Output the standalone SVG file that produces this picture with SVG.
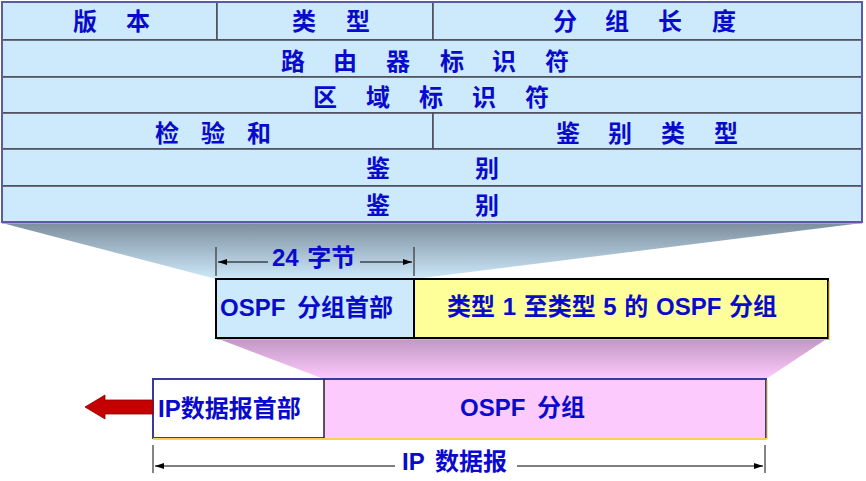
<svg xmlns="http://www.w3.org/2000/svg" width="866" height="481" viewBox="0 0 866 481">
<defs>
<style>
.cell{fill:#cceafb;stroke:#4a4a5a;stroke-width:1.5}
.t{font-family:"Liberation Sans","Noto Sans CJK SC",sans-serif;font-weight:bold;font-size:24px;fill:#0a0acc}
.tc{font-family:"Noto Sans CJK SC",sans-serif;font-weight:bold;font-size:24px;fill:#0a0acc;text-anchor:middle}
.dim{stroke:#000;stroke-width:1.2;fill:none}
.tick{stroke:#333;stroke-width:1.2}
</style>
<linearGradient id="gBlue" x1="0" y1="0" x2="0" y2="1">
<stop offset="0" stop-color="#7c8e9e"/>
<stop offset="1" stop-color="#cde9fa"/>
</linearGradient>
<linearGradient id="gPink" x1="0" y1="0" x2="0" y2="1">
<stop offset="0" stop-color="#c196c1"/>
<stop offset="1" stop-color="#fdcafd"/>
</linearGradient>
<marker id="ah" markerWidth="9" markerHeight="6" refX="9" refY="3" orient="auto-start-reverse" markerUnits="userSpaceOnUse">
<path d="M0,0 L9,3 L0,6 z" fill="#000"/>
</marker>
</defs>

<!-- expansion trapezoids -->
<polygon points="2,223 862,223 414,279 216,279" fill="url(#gBlue)"/>
<polygon points="216,338 828,338 766,379 324,379" fill="url(#gPink)"/>

<!-- OSPF header table -->
<g id="table">
<rect x="2" y="2" width="860" height="220" fill="#cceafb" stroke="#5a5aa8" stroke-width="2"/>
<line x1="2" y1="223" x2="862" y2="223" stroke="#e0b030" stroke-width="1.5"/>
<g id="row-version">
<rect class="cell" x="2" y="2" width="215" height="38"/>
<text class="tc" x="85 138" y="30">版本</text>
</g>
<g id="row-type">
<rect class="cell" x="217" y="2" width="216" height="38"/>
<text class="tc" x="304 358" y="30">类型</text>
</g>
<g id="row-length">
<rect class="cell" x="433" y="2" width="429" height="38"/>
<text class="tc" x="565 617 670 724" y="30">分组长度</text>
</g>
<g id="row-router-id">
<rect class="cell" x="2" y="40" width="860" height="37"/>
<text class="tc" x="293 345 398 452 504 557" y="70">路由器标识符</text>
</g>
<g id="row-area-id">
<rect class="cell" x="2" y="77" width="860" height="36"/>
<text class="tc" x="325 378 431 484 537" y="106">区域标识符</text>
</g>
<g id="row-checksum">
<rect class="cell" x="2" y="113" width="431" height="36"/>
<text class="tc" x="167 213 259" y="142">检验和</text>
</g>
<g id="row-auth-type">
<rect class="cell" x="433" y="113" width="429" height="36"/>
<text class="tc" x="568 620 673 726" y="142">鉴别类型</text>
</g>
<g id="row-auth-1">
<rect class="cell" x="2" y="149" width="860" height="37"/>
<text class="tc" x="378 487" y="177">鉴别</text>
</g>
<g id="row-auth-2">
<rect class="cell" x="2" y="186" width="860" height="36"/>
<text class="tc" x="378 487" y="214">鉴别</text>
</g>
<rect x="2" y="2" width="860" height="220" fill="none" stroke="#5a5aa8" stroke-width="2"/>
</g>

<!-- OSPF packet -->
<g id="ospf-header">
<rect x="216" y="279" width="198" height="59" fill="#cceafb" stroke="#000" stroke-width="2"/>
<text class="t" x="220" y="316" word-spacing="5">OSPF 分组首部</text>
</g>
<g id="ospf-body">
<rect x="414" y="279" width="414" height="59" fill="#ffff99" stroke="#000" stroke-width="2"/>
<line x1="829" y1="281" x2="829" y2="340" stroke="#f0b020" stroke-width="1"/>
<line x1="217" y1="339.5" x2="829" y2="339.5" stroke="#f0c040" stroke-width="1"/>
<text class="t" x="612" y="315" text-anchor="middle" word-spacing="1">类型 1 至类型 5 的 OSPF 分组</text>
</g>

<!-- IP datagram -->
<g id="ip-body">
<rect x="324" y="379" width="442" height="59" fill="#fdcafd"/>
<path d="M324,379 H766 V438" fill="none" stroke="#3a3a98" stroke-width="2"/>
<line x1="767" y1="380" x2="767" y2="439" stroke="#f0c040" stroke-width="1"/>
<text class="t" x="460" y="416" word-spacing="5">OSPF 分组</text>
</g>
<g id="ip-header">
<rect x="153" y="379" width="171" height="59" fill="#ffffff"/>
<path d="M324,438 H153 V379 H324" fill="none" stroke="#3a3a98" stroke-width="2"/>
<line x1="324" y1="379" x2="324" y2="438" stroke="#222" stroke-width="1.5"/>
<text class="t" x="158" y="417">IP数据报首部</text>
</g>
<line x1="153" y1="439" x2="767" y2="439" stroke="#ffd050" stroke-width="2"/>

<!-- connectors -->
<g id="connectors">
<polygon points="85,407 105,395 105,400 153,400 153,414 105,414 105,419" fill="#c40000" stroke="#900000" stroke-width="0.8"/>
<line class="tick" x1="216" y1="247" x2="216" y2="276"/>
<line class="tick" x1="414" y1="247" x2="414" y2="276"/>
<line class="dim" x1="268" y1="262" x2="218" y2="262" marker-end="url(#ah)"/>
<line class="dim" x1="360" y1="262" x2="412" y2="262" marker-end="url(#ah)"/>
<text class="t" x="272" y="266" word-spacing="2">24 字节</text>
<line class="tick" x1="153" y1="445" x2="153" y2="473"/>
<line class="tick" x1="765" y1="445" x2="765" y2="473"/>
<line class="dim" x1="395" y1="466" x2="155" y2="466" marker-end="url(#ah)"/>
<line class="dim" x1="517" y1="466" x2="763" y2="466" marker-end="url(#ah)"/>
<text class="t" x="402" y="470" word-spacing="4">IP 数据报</text>
</g>
</svg>
